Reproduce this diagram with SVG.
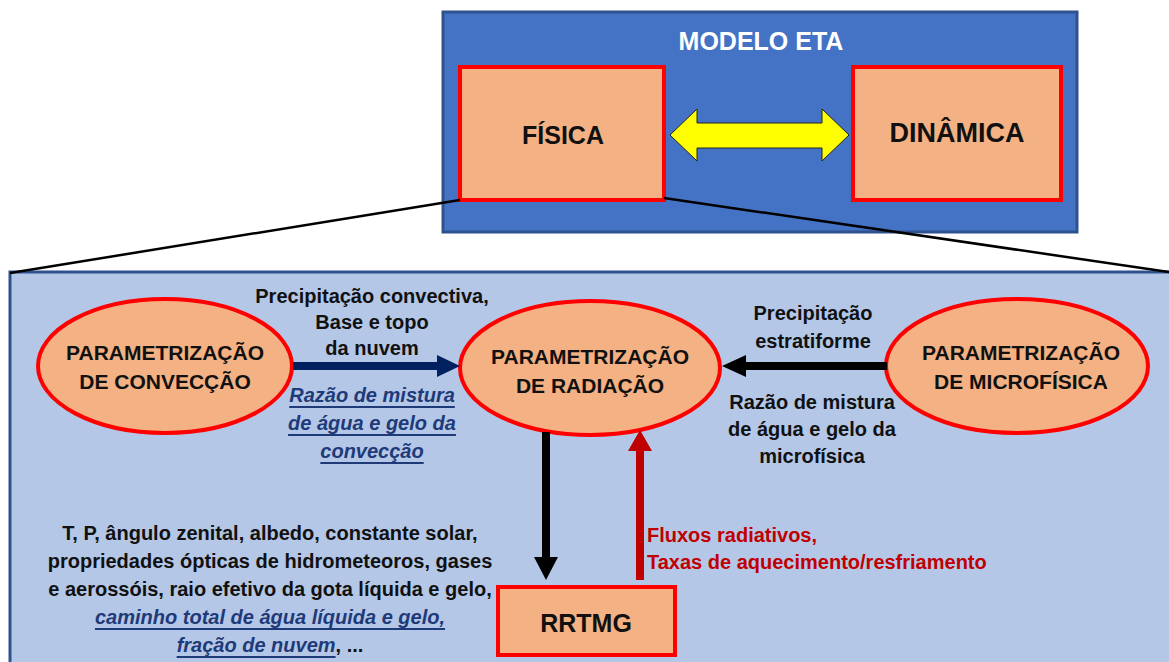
<svg xmlns="http://www.w3.org/2000/svg" width="1169" height="662" viewBox="0 0 1169 662">
<style>
text{font-family:"Liberation Sans",Arial,sans-serif;font-weight:bold;text-anchor:middle;dominant-baseline:central}
.node{fill:#F4B183;stroke:#FF0000;stroke-width:4}
.lbl{font-size:20px;fill:#111}
.nav{font-size:20px;fill:#1F3A78;font-style:italic;text-decoration:underline}
.red{font-size:20px;fill:#C00000;text-anchor:start}
.big{font-size:21px;fill:#111}
</style>
<rect width="1169" height="662" fill="#fff"/>
<g id="panel">
<rect x="10" y="272" width="1165" height="400" fill="#B4C7E7" stroke="#2F528F" stroke-width="3"/>
</g>
<g id="modelo-eta">
<rect x="443" y="12" width="634" height="220" fill="#4472C4" stroke="#2F528F" stroke-width="3"/>
<text x="761" y="41" style="font-size:25px;fill:#fff">MODELO ETA</text>
</g>
<g id="fisica">
<rect class="node" x="460" y="67" width="204" height="133"/>
<text x="563" y="135" style="font-size:25px;fill:#111">FÍSICA</text>
</g>
<g id="dinamica">
<rect class="node" x="853" y="67" width="208" height="133"/>
<text x="957" y="133" style="font-size:27px;fill:#111">DINÂMICA</text>
</g>
<g id="conveccao">
<ellipse class="node" cx="165" cy="366" rx="127" ry="67"/>
<text class="big" x="165" y="352">PARAMETRIZAÇÃO</text>
<text class="big" x="165" y="381">DE CONVECÇÃO</text>
</g>
<g id="radiacao">
<ellipse class="node" cx="590" cy="368" rx="130" ry="67"/>
<text class="big" x="590" y="356">PARAMETRIZAÇÃO</text>
<text class="big" x="590" y="385">DE RADIAÇÃO</text>
</g>
<g id="microfisica">
<ellipse class="node" cx="1017" cy="366" rx="131" ry="67"/>
<text class="big" x="1021" y="352">PARAMETRIZAÇÃO</text>
<text class="big" x="1021" y="381">DE MICROFÍSICA</text>
</g>
<g id="rrtmg">
<rect class="node" x="498" y="587" width="177" height="68"/>
<text x="586" y="623" style="font-size:25px;fill:#111">RRTMG</text>
</g>
<g id="connectors">
<line x1="460" y1="200" x2="10" y2="273" stroke="#000" stroke-width="2.5"/>
<line x1="664" y1="198" x2="1169" y2="272" stroke="#000" stroke-width="2.5"/>
<polygon points="670,135 697,109 697,123 822,123 822,109 849,135 822,161 822,148 697,148 697,161" fill="#FFFF00" stroke="#222" stroke-width="1"/>
<polygon points="293,362 437,362 437,355 460,366 437,377 437,370 293,370" fill="#002060"/>
<polygon points="887,362 746,362 746,355 722,366 746,377 746,370 887,370" fill="#000"/>
<polygon points="542,432 550,432 550,557 558,557 546,580 534,557 542,557" fill="#000"/>
<polygon points="636,580 644,580 644,451 652,451 640,430 628,451 636,451" fill="#C00000"/>
</g>
<g id="labels">
<text class="lbl" x="372" y="296">Precipitação convectiva,</text>
<text class="lbl" x="372" y="322">Base e topo</text>
<text class="lbl" x="372" y="348">da nuvem</text>
<text class="nav" x="372" y="395">Razão de mistura</text>
<text class="nav" x="372" y="423">de água e gelo da</text>
<text class="nav" x="372" y="451">convecção</text>
<text class="lbl" x="813" y="313">Precipitação</text>
<text class="lbl" x="813" y="341">estratiforme</text>
<text class="lbl" x="812" y="402">Razão de mistura</text>
<text class="lbl" x="812" y="429">de água e gelo da</text>
<text class="lbl" x="812" y="456">microfísica</text>
<text class="red" x="647" y="535">Fluxos radiativos,</text>
<text class="red" x="647" y="562">Taxas de aquecimento/resfriamento</text>
<text class="lbl" x="270" y="533">T, P, ângulo zenital, albedo, constante solar,</text>
<text class="lbl" x="270" y="561">propriedades ópticas de hidrometeoros, gases</text>
<text class="lbl" x="270" y="589">e aerossóis, raio efetivo da gota líquida e gelo,</text>
<text class="nav" x="270" y="617">caminho total de água líquida e gelo,</text>
<text class="lbl" x="270" y="645"><tspan class="nav">fração de nuvem</tspan>, ...</text>
</g>
</svg>
